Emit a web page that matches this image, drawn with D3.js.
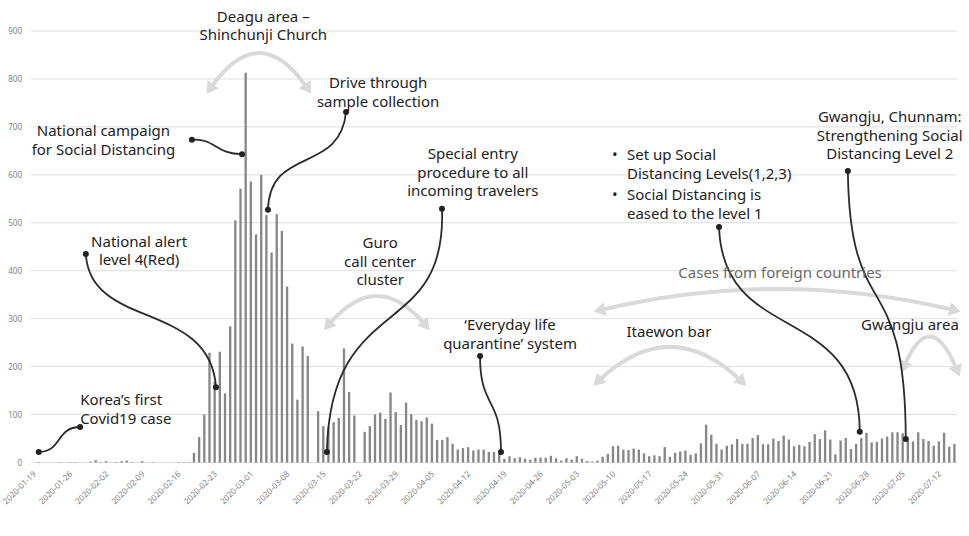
<!DOCTYPE html>
<html><head><meta charset="utf-8">
<script src="https://cdn.jsdelivr.net/npm/d3@7"></script>
<style>body{margin:0;background:#fff} svg{display:block}</style>
</head><body>
<svg id="chart" width="969" height="536"></svg>
<script>
// ---------------- DATA ----------------
const startDate = "2020-01-19";
const dailyCases = [
  0,1,0,0,0,1,0,1,1,0,0,2,5,1,3,0,1,3,4,1,0,3,0,1,0,0,0,0,1,1,1,
  20,53,100,229,169,231,144,284,505,571,813,
  586,476,600,516,438,518,483,367,248,131,242,222,0,107,76,74,84,93,238,147,98,0,
  64,76,100,104,91,146,105,78,125,
  101,89,86,94,81,47,47,53,39,27,30,32,25,27,27,22,22,18,8,13,9,11,8,6,10,10,10,14,9,4,
  9,6,13,8,3,2,4,12,18,34,35,27,26,29,27,19,13,15,13,32,12,20,23,25,16,19,40,79,58,39,27,
  35,38,49,39,39,51,57,38,38,50,45,56,48,34,37,34,43,59,49,67,48,17,46,51,28,39,51,62,42,43,
  50,54,63,63,61,46,44,63,49,45,35,44,62,33,39
];
const tickLabels = ["2020-01-19","2020-01-26","2020-02-02","2020-02-09","2020-02-16","2020-02-23",
  "2020-03-01","2020-03-08","2020-03-15","2020-03-22","2020-03-29","2020-04-05","2020-04-12",
  "2020-04-19","2020-04-26","2020-05-03","2020-05-10","2020-05-17","2020-05-24","2020-05-31",
  "2020-06-07","2020-06-14","2020-06-21","2020-06-28","2020-07-05","2020-07-12"];
const yTicks = [0,100,200,300,400,500,600,700,800,900];

// annotation texts: position in data space [dayIndex, value]
const annoTexts = [
  {at:[9,120], anchor:"start", lines:["Korea’s first","Covid19 case"]},
  {at:[20.4,450], anchor:"middle", lines:["National alert","level 4(Red)"]},
  {at:[13.5,680], anchor:"middle", lines:["National campaign","for Social Distancing"]},
  {at:[44.4,919], anchor:"middle", lines:["Deagu area –","Shinchunji Church"]},
  {at:[66.6,781], anchor:"middle", lines:["Drive through","sample collection"]},
  {at:[84.9,633], anchor:"middle", lines:["Special entry","procedure to all","incoming travelers"]},
  {at:[67,447], anchor:"middle", lines:["Guro","call center","cluster"]},
  {at:[92.1,276], anchor:"middle", lines:["‘Everyday life","quarantine’ system"]},
  {at:[122.8,262], anchor:"middle", lines:["Itaewon bar"]},
  {at:[144.3,385], anchor:"middle", lines:["Cases from foreign countries"], gray:true},
  {at:[169.4,276], anchor:"middle", lines:["Gwangju area"]},
  {at:[114.7,631], anchor:"start", lines:["Set up Social","Distancing Levels(1,2,3)"], bullet:true},
  {at:[114.7,547], anchor:"start", lines:["Social Distancing is","eased to the level 1"], bullet:true},
  {at:[165.5,710], anchor:"middle", lines:["Gwangju, Chunnam:","Strengthening Social","Distancing Level 2"]}
];
// curved black connectors (cubic) with dots at both ends, data space
const connectors = [
  [[1,22],[5.5,22],[4.3,74],[9,74]],
  [[10.1,435],[10.9,276],[34.1,339],[35.26,157]],
  [[30.6,673],[35.1,677],[35.1,643],[40.3,643]],
  [[60.4,731],[59.2,600],[45.7,662],[45.3,527]],
  [[78.95,529],[79.9,250],[57.3,360],[56.7,22]],
  [[86.3,222],[86.3,110],[90.35,141],[90.35,22]],
  [[132.5,491],[133.3,240],[159.7,339],[159.7,64]],
  [[157.4,608],[157.8,276],[168.5,422],[168.6,49]]
];
// light gray double-headed arcs (quadratic), data space
const arcs = [
  [[34.2,781],[43.6,927],[52.9,781]],
  [[57,287],[66.4,408],[75.7,287]],
  [[109.2,170],[123,312],[136.8,170]],
  [[109.6,318],[144.1,406],[177.9,318]],
  [[168.3,201],[173.3,329],[178.5,193]]
];

// ---------------- CHART ----------------
const svg = d3.select("#chart");
const parse = d3.utcParse("%Y-%m-%d"), fmt = d3.utcFormat("%Y-%m-%d");
const d0 = parse(startDate);
const dates = d3.utcDay.range(d0, d3.utcDay.offset(d0, dailyCases.length)).map(fmt);

const x = d3.scaleBand().domain(dates).range([31, 957]).paddingInner(0.55).paddingOuter(0.275);
const y = d3.scaleLinear().domain([0, 900]).range([462.5, 31]);
const bw = x.bandwidth();
const xd = d3.scaleLinear().domain([0, dates.length - 1])
  .range([x(dates[0]) + bw / 2, x(dates[dates.length - 1]) + bw / 2]);

// gridlines
svg.append("g").selectAll("line").data(yTicks).join("line")
  .attr("x1", 31).attr("x2", 957)
  .attr("y1", d => y(d)).attr("y2", d => y(d))
  .attr("stroke", "#dedede").attr("stroke-width", 1);

// y axis
const ya = svg.append("g").attr("transform", "translate(22,0)")
  .call(d3.axisLeft(y).tickValues(yTicks).tickSize(0).tickPadding(0));
ya.select(".domain").remove();
ya.selectAll("text").attr("fill", "#808080").style("font-family", "Noto Sans, sans-serif").style("font-size", "8px");

// x axis
const xa = svg.append("g").attr("transform", `translate(0,${y(0)})`)
  .call(d3.axisBottom(x).tickValues(tickLabels).tickSize(0));
xa.select(".domain").remove();
xa.selectAll("text")
  .attr("x", 0).attr("y", 0).attr("dy", 0)
  .attr("transform", "translate(3,12) rotate(-45)")
  .style("text-anchor", "end")
  .attr("fill", "#808080").style("font-family", "Noto Sans, sans-serif").style("font-size", "8.2px");

// bars
svg.append("g").selectAll("rect").data(dates.map((d, i) => ({d, v: dailyCases[i]})).filter(o => o.v > 0))
  .join("rect")
  .attr("x", o => x(o.d)).attr("width", bw)
  .attr("y", o => y(o.v)).attr("height", o => y(0) - y(o.v))
  .attr("fill", "#878787");

// arrow marker
const defs = svg.append("defs");
defs.append("marker").attr("id", "ah").attr("viewBox", "0 0 10 12")
  .attr("refX", 4).attr("refY", 6).attr("markerWidth", 12).attr("markerHeight", 14)
  .attr("markerUnits", "userSpaceOnUse").attr("orient", "auto-start-reverse")
  .append("path").attr("d", "M0,0 L10,6 L0,12 Z").attr("fill", "#d9d9d9");

const P = p => [xd(p[0]), y(p[1])];

// arcs
svg.append("g").selectAll("path").data(arcs).join("path")
  .attr("d", a => { const [p0, p1, p2] = a.map(P); return `M${p0}Q${p1} ${p2}`; })
  .attr("fill", "none").attr("stroke", "#d9d9d9").attr("stroke-width", 4)
  .attr("marker-start", "url(#ah)").attr("marker-end", "url(#ah)");

// connectors
const cg = svg.append("g");
cg.selectAll("path").data(connectors).join("path")
  .attr("d", c => { const [p0, p1, p2, p3] = c.map(P); return `M${p0}C${p1} ${p2} ${p3}`; })
  .attr("fill", "none").attr("stroke", "#2b2b2b").attr("stroke-width", 1.8);
cg.selectAll("circle").data(connectors.flatMap(c => [c[0], c[3]])).join("circle")
  .attr("cx", p => xd(p[0])).attr("cy", p => y(p[1])).attr("r", 3).attr("fill", "#222");

// texts
const tg = svg.append("g").style("font-family", "Noto Sans, sans-serif").style("font-size", "15px");
annoTexts.forEach(t => {
  const tx = xd(t.at[0]), ty = y(t.at[1]);
  const el = tg.append("text").attr("text-anchor", t.anchor).attr("fill", t.gray ? "#6a6a6a" : "#222");
  t.lines.forEach((l, i) => el.append("tspan").attr("x", tx).attr("y", ty + i * 18.6).text(l));
  if (t.bullet) tg.append("text").attr("x", tx - 15).attr("y", ty).attr("fill", "#222").text("•");
});
</script>
</body></html>
